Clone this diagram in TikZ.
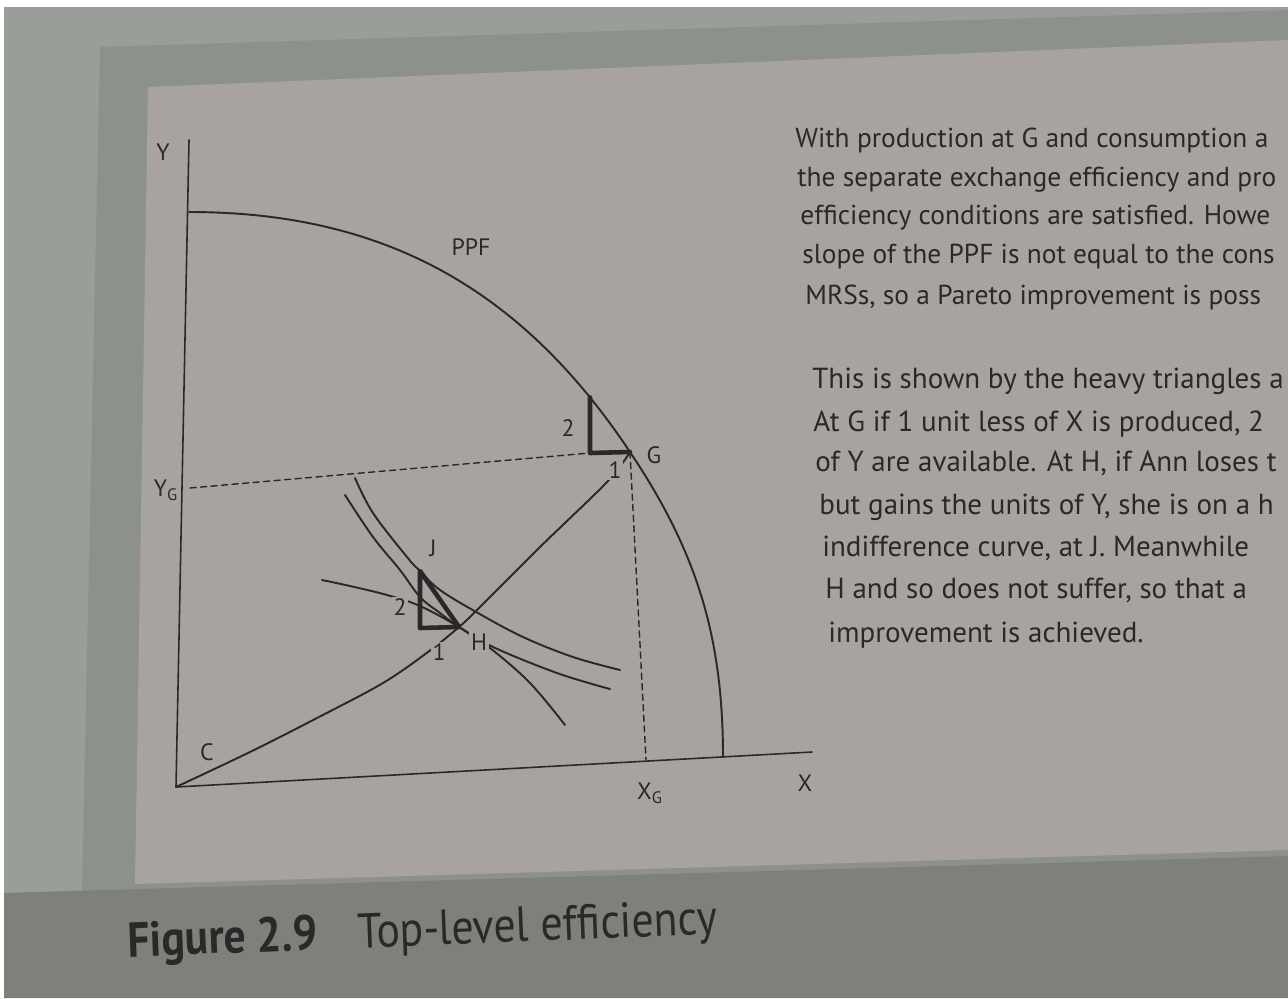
\documentclass[tikz,border=0pt]{standalone}
\usepackage{fontspec}
\setmainfont{PT Sans}
\newfontfamily\capfont[FakeStretch=0.89]{PT Sans}
\usepackage{tikz}
\usetikzlibrary{intersections}

\definecolor{inkgray}{RGB}{42,40,40}
\definecolor{pagegray}{RGB}{168,163,160}
\definecolor{edgegray}{RGB}{154,158,153}
\definecolor{bandgray}{RGB}{141,145,140}
\definecolor{footgray}{RGB}{128,128,123}

\begin{document}
\begin{tikzpicture}[x=0.02cm,y=-0.02cm,line cap=round,line join=round,
    curve/.style={draw=inkgray,line width=1.1pt},
    heavy/.style={draw=inkgray,line width=2.6pt},
    guide/.style={draw=inkgray,line width=0.8pt,dash pattern=on 3.5pt off 2.5pt},
    lbl/.style={text=inkgray,font=\fontsize{13.5}{15}\selectfont,inner sep=1pt},
    knock/.style={lbl,fill=pagegray},
    body/.style={text=inkgray,font=\fontsize{15.6}{18}\selectfont,anchor=base west,inner sep=0pt},
    lowbody/.style={body,font=\fontsize{16.5}{19}\selectfont}]
    \useasboundingbox (0,0) rectangle (1288,998);
    \clip (0,0) rectangle (1288,998);

    % --- PAGE (BACKGROUND) ---
    \fill[edgegray] (0,0) rectangle (1288,998);
    \fill[bandgray] (100,47) -- (1288,10) -- (1288,862) -- (82,892) -- cycle;
    \fill[footgray] (0,893) -- (1288,856) -- (1288,998) -- (0,998) -- cycle;
    \fill[pagegray] (148,87) -- (1288,40) -- (1288,850) -- (135,884) -- cycle;
    \fill[white] (0,0) rectangle (1288,7);
    \fill[white] (0,0) rectangle (4,998);

    % --- DIAGRAM ---
    \coordinate (O) at (176,787);
    \coordinate (ytop) at (189,140);
    \coordinate (xend) at (812,752);
    \coordinate (G) at (630,452);
    \coordinate (Gcorner) at (590,453);
    \coordinate (H) at (459,627);
    \coordinate (J) at (420,571);
    \coordinate (Jcorner) at (420,628);
    \coordinate (yG) at (190,488);
    \coordinate (xG) at (646,760);

    \draw[curve,line width=0.9pt] (ytop) -- (O) -- (xend);
	\draw[guide] (yG) -- (Gcorner);
	\draw[guide] (G) -- (xG);

    % PPF
    \draw[curve,name path=ppf] (189,212) .. controls (383,212) and (521,288) .. (G)
        .. controls (697,552) and (723,637) .. (723,757);
    \path[name path=gside] (590,300) -- (590,470);
    \path[name intersections={of=ppf and gside,by=Gtop}];
    % contract curve from C
    \draw[curve] plot[smooth,tension=0.55] coordinates {(O) (250,752) (317,718) (383,683) (428,652) (H) (478,609) (540,547) (607,482) (G)};
    % Ann's indifference curves
    \draw[curve] plot[smooth,tension=0.6] coordinates {(355,478) (373,513) (407,557) (J) (440,590) (478,613) (523,637) (573,657) (620,670)};
    \draw[curve] plot[smooth,tension=0.6] coordinates {(345,495) (373,537) (400,570) (420,597) (440,613) (H) (493,647) (557,673) (610,689)};
    % Bob's indifference curve
    \draw[curve] plot[smooth,tension=0.6] coordinates {(322,580) (350,586) (387,595) (420,606) (H) (490,648) (530,683) (565,725)};

	% heavy triangles
	\draw[heavy] (Gtop) -- (Gcorner) -- (G);
	\draw[heavy] (J) -- (Jcorner) -- (H) -- cycle;

    \node[lbl] (ylab) at (163,152) {Y};
    \node[lbl] (yglab) at (166,490) {Y\textsubscript{G}};
    \node[lbl] (xlab) at (805,783) {X};
    \node[lbl] (xglab) at (650,793) {X\textsubscript{G}};
    \node[lbl] (clab) at (207,752) {C};
    \node[lbl] (ppflab) at (471,247) {PPF};
    \node[lbl] (glab) at (654,455) {G};
    \node[lbl] (jlab) at (433,548) {J};
    \node[knock] (hlab) at (479,642) {H};
    \node[lbl] (g2) at (568,428) {2};
    \node[knock] (g1) at (615,470) {1};
    \node[knock] (j2) at (400,607) {2};
    \node[knock] (j1) at (439,652) {1};

    % --- TEXT (RIGHT) ---
    \node[body] (ta) at (795,147) {With production at G and consumption a};
    \node[body] (tb) at (797,186) {the separate exchange efficiency and pro};
    \node[body] (tc) at (800,224) {efficiency conditions are satisfied. Howe};
    \node[body] (td) at (802,263) {slope of the PPF is not equal to the cons};
    \node[body] (te) at (805,304) {MRSs, so a Pareto improvement is poss};
    \node[lowbody] (tf) at (812,388) {This is shown by the heavy triangles a};
    \node[lowbody] (tg) at (813,431) {At G if 1 unit less of X is produced, 2};
    \node[lowbody] (th) at (815,471) {of Y are available. At H, if Ann loses t};
    \node[lowbody] (ti) at (819,514) {but gains the units of Y, she is on a h};
    \node[lowbody] (tj) at (822,556) {indifference curve, at J. Meanwhile};
    \node[lowbody] (tk) at (825,598) {H and so does not suffer, so that a};
    \node[lowbody] (tl) at (828,642) {improvement is achieved.};

    % --- CAPTION ---
    \node[anchor=base west,inner sep=0pt,text=inkgray,rotate=2.2,font=\capfont\fontsize{28}{30}\selectfont\bfseries] (fignum) at (128,957) {Figure 2.9};
    \node[anchor=base west,inner sep=0pt,text=inkgray,rotate=2.2,font=\capfont\fontsize{28}{30}\selectfont] (figtitle) at (358,948) {Top-level efficiency};
\end{tikzpicture}
\end{document}
